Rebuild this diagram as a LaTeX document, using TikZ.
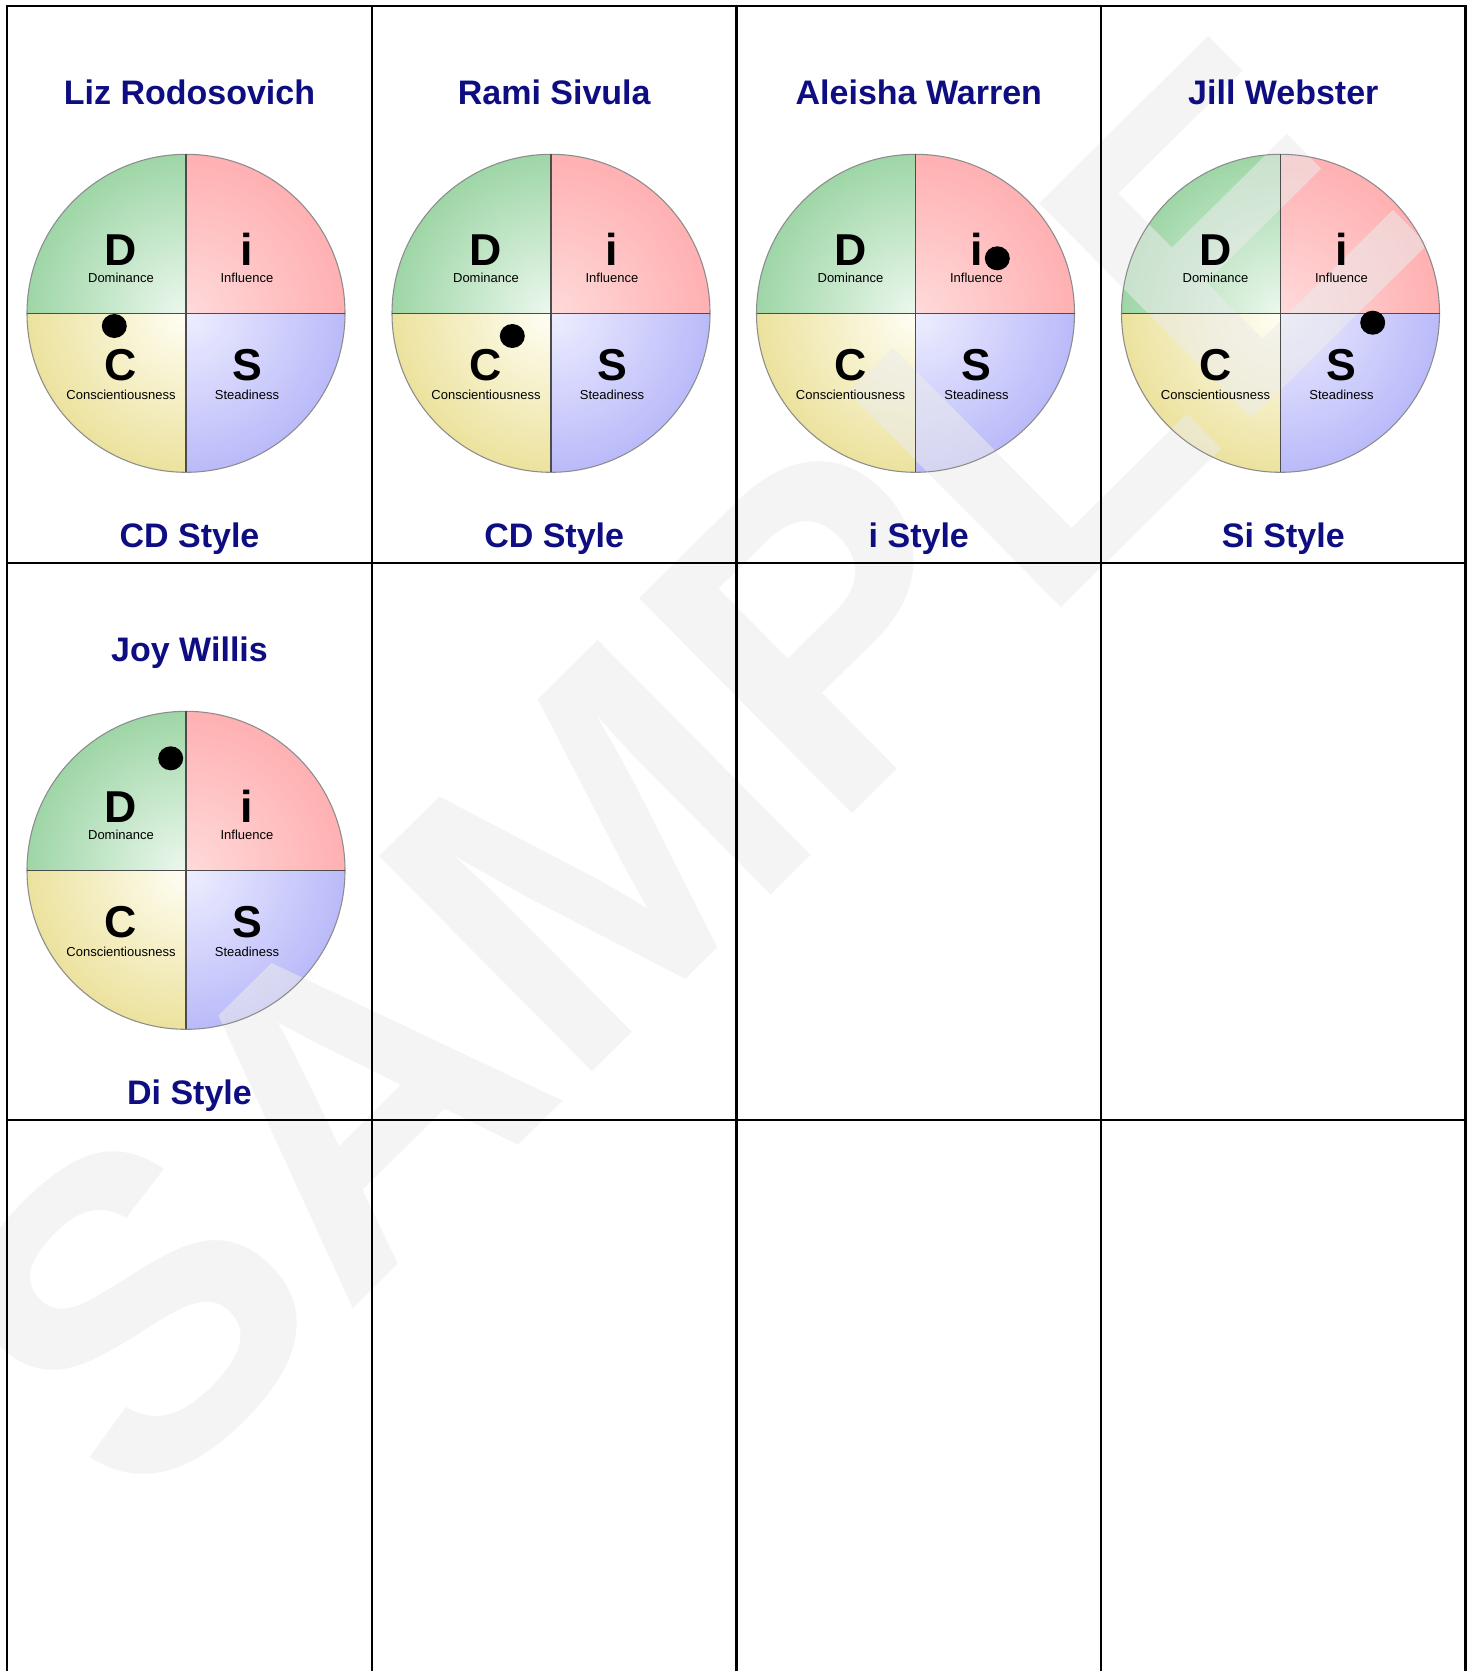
\documentclass[tikz,border=0pt]{standalone}
\usepackage{fontspec}
\setmainfont{Liberation Sans}
\usetikzlibrary{calc}
\pgfdeclarelayer{fills}
\pgfdeclarelayer{wmlayer}
\pgfsetlayers{fills,wmlayer,main}
\definecolor{navy}{RGB}{14,14,130}
\definecolor{qgreen}{RGB}{158,214,166}
\definecolor{qgreenin}{RGB}{236,248,238}
\definecolor{qpink}{RGB}{255,176,178}
\definecolor{qpinkin}{RGB}{255,218,218}
\definecolor{qyellow}{RGB}{236,226,158}
\definecolor{qyellowin}{RGB}{255,254,244}
\definecolor{qblue}{RGB}{186,186,250}
\definecolor{qbluein}{RGB}{238,238,255}
\definecolor{wmark}{RGB}{236,236,236}
\tikzset{
  gridline/.style={line width=1.6pt, black},
  titletext/.style={anchor=base, inner sep=0pt, text=navy, font=\fontsize{25.5pt}{27pt}\selectfont\bfseries},
  bigletter/.style={anchor=base, inner sep=0pt, font=\fontsize{33.5pt}{34pt}\selectfont\bfseries},
  qlabel/.style={anchor=base, inner sep=0pt, font=\fontsize{9.75pt}{10pt}\selectfont},
  rim/.style={draw=black!45, line width=0.8pt},
  divider/.style={draw=black!70, line width=1.0pt},
  markdot/.style={fill=black},
}
% #1 name, #2 cx, #3 cy, #4 dot dx, #5 dot dy
\newcommand\DiscChart[5]{%
  \begin{pgfonlayer}{fills}
  \begin{scope}
    \clip (#2,#3) rectangle ++(-170,-170);
    \shade[inner color=qgreenin, outer color=qgreen] (#2,#3) circle[radius=159];
  \end{scope}
  \begin{scope}
    \clip (#2,#3) rectangle ++(170,-170);
    \shade[inner color=qpinkin, outer color=qpink] (#2,#3) circle[radius=159];
  \end{scope}
  \begin{scope}
    \clip (#2,#3) rectangle ++(-170,170);
    \shade[inner color=qyellowin, outer color=qyellow] (#2,#3) circle[radius=159];
  \end{scope}
  \begin{scope}
    \clip (#2,#3) rectangle ++(170,170);
    \shade[inner color=qbluein, outer color=qblue] (#2,#3) circle[radius=159];
  \end{scope}
  \end{pgfonlayer}
  \coordinate (#1-c) at (#2,#3);
  \draw[rim] (#1-c) circle[radius=159];
  \draw[divider] ($(#1-c)+(0,-159)$) -- ($(#1-c)+(0,159)$);
  \draw[divider] ($(#1-c)+(-159,0)$) -- ($(#1-c)+(159,0)$);
  \node[bigletter] (#1-D) at ($(#1-c)+(-65,-47.5)$) {D};
  \node[qlabel] (#1-Dl) at ($(#1-c)+(-65,-31)$) {Dominance};
  \node[bigletter] (#1-i) at ($(#1-c)+(61,-47.5)$) {i};
  \node[qlabel] (#1-il) at ($(#1-c)+(61,-31)$) {Influence};
  \node[bigletter] (#1-C) at ($(#1-c)+(-65,67.5)$) {C};
  \node[qlabel] (#1-Cl) at ($(#1-c)+(-65,85.7)$) {Conscientiousness};
  \node[bigletter] (#1-S) at ($(#1-c)+(61,67.5)$) {S};
  \node[qlabel] (#1-Sl) at ($(#1-c)+(61,85.7)$) {Steadiness};
  \fill[markdot] ($(#1-c)+(#4,#5)$) ellipse[x radius=12.5, y radius=12];
}
\begin{document}
\begin{tikzpicture}[x=0.75pt,y=-0.75pt]
  \useasboundingbox (0,0) rectangle (1473,1671);
  \begin{pgfonlayer}{fills}
    \fill[white] (0,0) rectangle (1473,1671);
  \end{pgfonlayer}
  % grid
  \coordinate (g00) at (7,6);
  \coordinate (g40) at (1465.5,6);
  \coordinate (g0b) at (7,1671);
  \coordinate (g1t) at (372,6);
  \coordinate (g1b) at (372,1671);
  \coordinate (g2t) at (736.5,6);
  \coordinate (g2b) at (736.5,1671);
  \coordinate (g3t) at (1101,6);
  \coordinate (g3b) at (1101,1671);
  \coordinate (g4b) at (1465.5,1671);
  \coordinate (h1l) at (7,563);
  \coordinate (h1r) at (1465.5,563);
  \coordinate (h2l) at (7,1120);
  \coordinate (h2r) at (1465.5,1120);
  \draw[gridline] (g0b) -- (g00) -- (g40) -- (g4b);
  \draw[gridline] (g1t) -- (g1b);
  \draw[gridline] (g2t) -- (g2b);
  \draw[gridline] (g3t) -- (g3b);
  \draw[gridline] (h1l) -- (h1r);
  \draw[gridline] (h2l) -- (h2r);
  % titles
  \node[titletext] (t1) at (189.5,104) {Liz Rodosovich};
  \node[titletext] (t2) at (554.2,104) {Rami Sivula};
  \node[titletext] (t3) at (918.8,104) {Aleisha Warren};
  \node[titletext] (t4) at (1283.3,104) {Jill Webster};
  \node[titletext] (t5) at (189.5,661) {Joy Willis};
  % charts
  \DiscChart{liz}{186}{313.3}{-71.7}{12.7}
  \DiscChart{rami}{551}{313.3}{-38.7}{22.7}
  \DiscChart{aleisha}{915.5}{313.3}{81.8}{-55}
  \DiscChart{jill}{1280.5}{313.3}{92.2}{9.4}
  \DiscChart{joy}{186}{870.3}{-15.3}{-112}
  % styles
  \node[titletext] (s1) at (189.5,547) {CD Style};
  \node[titletext] (s2) at (554.2,547) {CD Style};
  \node[titletext] (s3) at (918.8,547) {i Style};
  \node[titletext] (s4) at (1283.3,547) {Si Style};
  \node[titletext] (s5) at (189.5,1104) {Di Style};
  % watermark
  \begin{pgfonlayer}{wmlayer}
  \node[text=wmark, text opacity=0.55, rotate=44.7, inner sep=0pt,
        font=\fontsize{330pt}{330pt}\selectfont\bfseries] (wm) at (682,770) {SAMPLE};
  \end{pgfonlayer}
\end{tikzpicture}
\end{document}
